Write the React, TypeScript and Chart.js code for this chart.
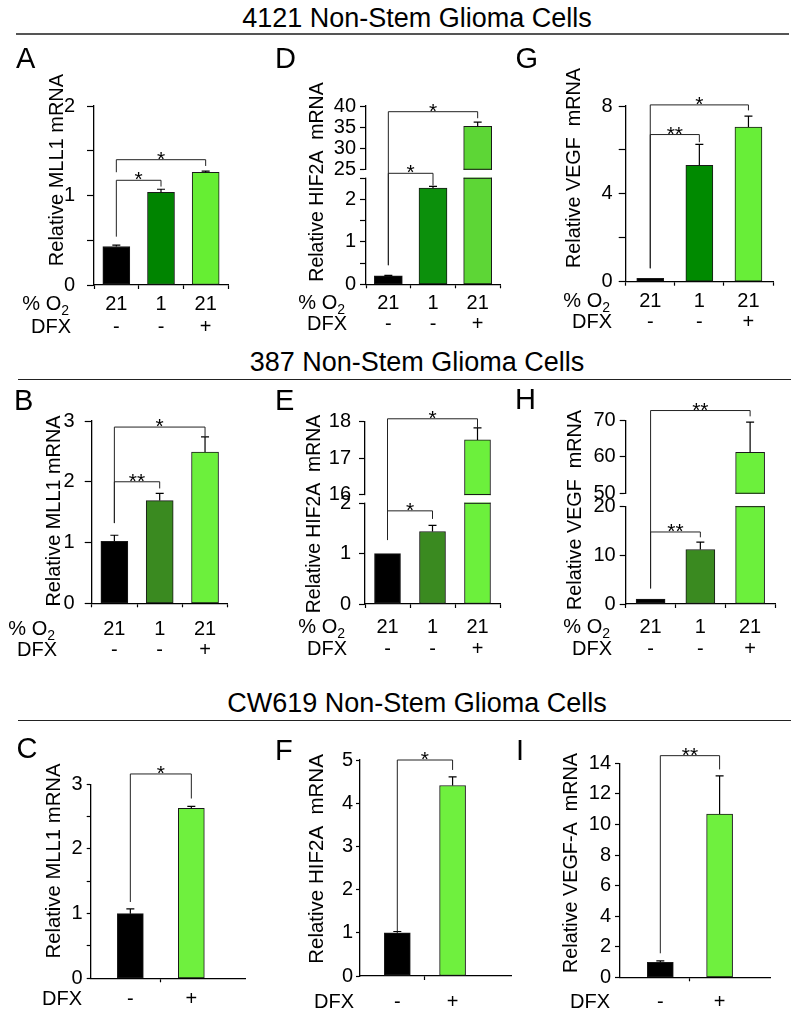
import React, { useEffect, useRef } from 'react';
import { Chart, registerables, LinearScale } from 'chart.js';

Chart.register(...registerables);

// ---------- broken (split) linear axis ----------
class BrokenScale extends LinearScale {
  static id = 'broken';
  static defaults = LinearScale.defaults;
  getPixelForValue(value: number) {
    const b: any = (this.options as any).brk;
    const top = this.top, bottom = this.bottom, h = bottom - top;
    const lowPx = bottom - h * b.lowFrac;
    const highPx = lowPx - h * b.gapFrac;
    if (value <= b.lowMax) return bottom - ((value - this.min) / (b.lowMax - this.min)) * (bottom - lowPx);
    if (value >= b.highMin) return highPx - ((value - b.highMin) / (this.max - b.highMin)) * (highPx - top);
    return lowPx - ((value - b.lowMax) / (b.highMin - b.lowMax)) * (lowPx - highPx);
  }
  getValueForPixel(pixel: number) {
    const b: any = (this.options as any).brk;
    const top = this.top, bottom = this.bottom, h = bottom - top;
    const lowPx = bottom - h * b.lowFrac;
    const highPx = lowPx - h * b.gapFrac;
    if (pixel >= lowPx) return this.min + ((bottom - pixel) / (bottom - lowPx)) * (b.lowMax - this.min);
    if (pixel <= highPx) return b.highMin + ((highPx - pixel) / (highPx - top)) * (this.max - b.highMin);
    return b.lowMax + ((lowPx - pixel) / (lowPx - highPx)) * (b.highMin - b.lowMax);
  }
}
Chart.register(BrokenScale);

const FONT = "'Liberation Sans', Arial, Helvetica, sans-serif";

// ---------- data ----------
const O2 = ['21', '1', '21'];
const DFX3 = ['-', '-', '+'];
const DFX2 = ['-', '+'];
const X2 = [1, 2];

// 4121 Non-Stem
const MLL1_4121 = [0.43, 1.035, 1.26];
const MLL1_4121_ERR = [0.015, 0.035, 0.012];
const HIF2A_4121 = [0.2, 2.27, 35.2];
const HIF2A_4121_ERR = [0.01, 0.04, 1.0];
const VEGF_4121 = [0.15, 5.3, 7.04];
const VEGF_4121_ERR = [0.0, 0.95, 0.5];
// 387 Non-Stem
const MLL1_387 = [1.02, 1.69, 2.49];
const MLL1_387_ERR = [0.1, 0.12, 0.25];
const HIF2A_387 = [1.0, 1.44, 17.5];
const HIF2A_387_ERR = [0.0, 0.12, 0.33];
const VEGF_387 = [1.0, 11.2, 61.3];
const VEGF_387_ERR = [0.0, 1.5, 8.3];
// CW619 Non-Stem
const MLL1_CW = [1.0, 2.63];
const MLL1_CW_ERR = [0.075, 0.03];
const HIF2A_CW = [1.0, 4.41];
const HIF2A_CW_ERR = [0.03, 0.2];
const VEGFA_CW = [0.98, 10.68];
const VEGFA_CW_ERR = [0.09, 2.5];

// y ticks (all tick marks) and labelled ticks
const TICKS_A = [0, 0.5, 1, 1.5, 2];       const LAB_A = [0, 1, 2];
const TICKS_D = [0, 0.5, 1, 1.5, 2, 2.5, 25, 30, 35, 40]; const LAB_D = [0, 1, 2, 25, 30, 35, 40];
const TICKS_G = [0, 2, 4, 6, 8];            const LAB_G = [0, 4, 8];
const TICKS_B = [0, 1, 2, 3];               const LAB_B = [0, 1, 2, 3];
const TICKS_E = [0, 1, 2, 16, 17, 18];      const LAB_E = [0, 1, 2, 16, 17, 18];
const TICKS_H = [0, 10, 20, 50, 60, 70];    const LAB_H = [0, 10, 20, 50, 60, 70];
const TICKS_C = [0, 0.5, 1, 1.5, 2, 2.5, 3]; const LAB_C = [0, 1, 2, 3];
const TICKS_F = [0, 1, 2, 3, 4, 5];         const LAB_F = [0, 1, 2, 3, 4, 5];
const TICKS_I = [0, 2, 4, 6, 8, 10, 12, 14]; const LAB_I = [0, 2, 4, 6, 8, 10, 12, 14];

// significance brackets: [fromBar, toBar, bracketY, leftLegEnd, rightLegEnd, label]
const BR_A = [[0, 2, 1.40, 1.26, 1.33, '*'], [0, 1, 1.17, 0.54, 1.10, '*']];
const BR_D = [[0, 2, 38.65, 0.45, 37.1, '*'], [0, 1, 15, 0.45, 2.33, '*']];
const BR_G = [[0, 2, 8.05, 0.61, 7.8, '*'], [0, 1, 6.7, 0.61, 6.35, '**']];
const BR_B = [[0, 2, 2.90, 1.32, 2.74, '*'], [0, 1, 2.0, 1.32, 1.89, '**']];
const BR_E = [[0, 2, 18.08, 1.27, 17.82, '*'], [0, 1, 1.85, 1.27, 1.69, '*']];
const BR_H = [[0, 2, 72.8, 3.2, 71.2, '**'], [0, 1, 14.8, 3.2, 13.7, '**']];
const BR_C = [[0, 1, 3.16, 1.18, 2.78, '*']];
const BR_F = [[0, 1, 5.0, 1.03, 4.77, '*']];
const BR_I = [[0, 1, 14.5, 1.57, 13.6, '**']];

// colours
const COL_4121A = ['#000000', '#008400', '#66ee33'];
const COL_4121D = ['#000000', '#0c900c', '#5dd636'];
const COL_4121G = ['#000000', '#008a00', '#68ee38'];
const COL_387 = ['#000000', '#3a8a20', '#6cf03c'];
const COL_CW = ['#000000', '#6ff03e'];

// ---------- panel layout (page pixel coordinates) ----------
const PANELS: any[] = [
  { letter: 'A', letterPos: [16, 68], title: 'Relative MLL1 mRNA', titleSize: 20, titlePos: [63, 170],
    values: MLL1_4121, errors: MLL1_4121_ERR, colors: COL_4121A, three: true, yMax: 2, yTicks: TICKS_A, yLab: LAB_A,
    brackets: BR_A, box: [0, 36, 262, 340], axisX: 94, plotRight: 228, yTop: 106, y0: 285,
    yTickLen: 7, yTickPad: 12, rows: [304, 327.5], rowRight: 71, barW: 27 },
  { letter: 'D', letterPos: [275, 68], title: 'Relative HIF2A  mRNA', titleSize: 19.5, titlePos: [323, 182],
    values: HIF2A_4121, errors: HIF2A_4121_ERR, colors: COL_4121D, three: true, yMax: 40, yTicks: TICKS_D, yLab: LAB_D,
    brk: { lowMax: 2.5, highMin: 25, lowFrac: 0.5945, gapFrac: 0.0505 },
    brackets: BR_D, box: [262, 36, 512, 340], axisX: 366, plotRight: 500, yTop: 106, y0: 284.3,
    yTickLen: 6, yTickPad: 4, rows: [303.3, 324.5], rowRight: 347, barW: 28 },
  { letter: 'G', letterPos: [515.5, 68], title: 'Relative VEGF  mRNA', titleSize: 19.8, titlePos: [580, 168],
    values: VEGF_4121, errors: VEGF_4121_ERR, colors: COL_4121G, three: true, yMax: 8, yTicks: TICKS_G, yLab: LAB_G,
    brackets: BR_G, box: [512, 36, 800, 340], axisX: 625.7, plotRight: 773, yTop: 106, y0: 281.7,
    yTickLen: 7, yTickPad: 6, rows: [301, 322.5], rowRight: 612, barW: 27 },
  { letter: 'B', letterPos: [14, 410], title: 'Relative MLL1 mRNA', titleSize: 19.9, titlePos: [60, 511],
    values: MLL1_387, errors: MLL1_387_ERR, colors: COL_387, three: true, yMax: 3, yTicks: TICKS_B, yLab: LAB_B,
    brackets: BR_B, box: [0, 382, 262, 668], axisX: 91.7, plotRight: 227.7, yTop: 421, y0: 603.3,
    yTickLen: 7, yTickPad: 10, rows: [629.2, 650.8], rowRight: 57, barW: 27 },
  { letter: 'E', letterPos: [275, 410], title: 'Relative HIF2A  mRNA', titleSize: 19.4, titlePos: [320, 514],
    values: HIF2A_387, errors: HIF2A_387_ERR, colors: COL_387, three: true, yMax: 18, yTicks: TICKS_E, yLab: LAB_E,
    brk: { lowMax: 2, highMin: 16, lowFrac: 0.5524, gapFrac: 0.0483 },
    brackets: BR_E, box: [262, 382, 512, 668], axisX: 365, plotRight: 500, yTop: 421.7, y0: 604,
    yTickLen: 6, yTickPad: 8, rows: [627.5, 649.2], rowRight: 347, barW: 26 },
  { letter: 'H', letterPos: [515, 409], title: 'Relative VEGF  mRNA', titleSize: 19.8, titlePos: [581, 510],
    values: VEGF_387, errors: VEGF_387_ERR, colors: COL_387, three: true, yMax: 70, yTicks: TICKS_H, yLab: LAB_H,
    brk: { lowMax: 20, highMin: 50, lowFrac: 0.531, gapFrac: 0.0731 },
    brackets: BR_H, box: [512, 382, 800, 668], axisX: 625.7, plotRight: 775, yTop: 420.7, y0: 604,
    yTickLen: 6, yTickPad: 4, rows: [627.5, 649.2], rowRight: 612, barW: 29 },
  { letter: 'C', letterPos: [16.5, 758], title: 'Relative MLL1 mRNA', titleSize: 20.3, titlePos: [60, 861],
    values: MLL1_CW, errors: MLL1_CW_ERR, colors: COL_CW, three: false, yMax: 3, yTicks: TICKS_C, yLab: LAB_C,
    xMin: 0.35, xMax: 2.88,
    brackets: BR_C, box: [0, 722, 262, 1018], axisX: 90.7, plotRight: 245, yTop: 784.3, y0: 978.3,
    yTickLen: 4, yTickPad: 4, rows: [999.2], rowRight: 82, barW: 26 },
  { letter: 'F', letterPos: [275, 760], title: 'Relative HIF2A  mRNA', titleSize: 20.5, titlePos: [323, 859],
    values: HIF2A_CW, errors: HIF2A_CW_ERR, colors: COL_CW, three: false, yMax: 5, yTicks: TICKS_F, yLab: LAB_F,
    xMin: 0.325, xMax: 3.075,
    brackets: BR_F, box: [262, 722, 512, 1018], axisX: 360, plotRight: 525, yTop: 760, y0: 976,
    yTickLen: 4, yTickPad: 3, rows: [1002.5], rowRight: 354, barW: 26 },
  { letter: 'I', letterPos: [516, 760], title: 'Relative VEGF-A  mRNA', titleSize: 19.8, titlePos: [577, 863],
    values: VEGFA_CW, errors: VEGFA_CW_ERR, colors: COL_CW, three: false, yMax: 14, yTicks: TICKS_I, yLab: LAB_I,
    xMin: 0.32, xMax: 2.85,
    brackets: BR_I, box: [512, 722, 800, 1018], axisX: 620, plotRight: 770, yTop: 763.3, y0: 977.3,
    yTickLen: 5, yTickPad: 4, rows: [1002.5], rowRight: 610, barW: 26 },
];

function makePlugin(p: any) {
  return {
    id: 'decor' + p.letter,
    afterDatasetsDraw(chart: any) {
      const ctx = chart.ctx;
      const ys = chart.scales.y;
      const meta = chart.getDatasetMeta(0);
      const ca = chart.chartArea;
      ctx.save();
      if (p.brk) {
        const hi = ys.getPixelForValue(p.brk.highMin);
        const lo = ys.getPixelForValue(p.brk.lowMax);
        ctx.fillStyle = '#ffffff';
        ctx.fillRect(ca.left - 2, hi + 0.7, ca.right - ca.left + 4, lo - hi - 1.4);
        ctx.strokeStyle = '#1a1a1a';
        ctx.lineWidth = 1;
        meta.data.forEach((el: any, i: number) => {
          if (p.values[i] > p.brk.highMin) {
            const l = el.x - el.width / 2, r = el.x + el.width / 2;
            ctx.beginPath();
            ctx.moveTo(l, hi); ctx.lineTo(r, hi);
            ctx.moveTo(l, lo); ctx.lineTo(r, lo);
            ctx.stroke();
          }
        });
      }
      // error bars (upper)
      ctx.strokeStyle = '#000';
      ctx.lineWidth = 1.2;
      meta.data.forEach((el: any, i: number) => {
        const e = p.errors[i];
        if (!e) return;
        const yv = ys.getPixelForValue(p.values[i]);
        const ye = ys.getPixelForValue(p.values[i] + e);
        ctx.beginPath();
        ctx.moveTo(el.x, yv); ctx.lineTo(el.x, ye);
        ctx.moveTo(el.x - 4, ye); ctx.lineTo(el.x + 4, ye);
        ctx.stroke();
      });
      // significance brackets
      for (const b of p.brackets) {
        const [from, to, yB, yL, yR, label] = b;
        const xl = meta.data[from].x, xr = meta.data[to].x;
        const pb = ys.getPixelForValue(yB), pl = ys.getPixelForValue(yL), pr = ys.getPixelForValue(yR);
        ctx.strokeStyle = '#222';
        ctx.lineWidth = 1;
        ctx.beginPath();
        ctx.moveTo(xl, pl); ctx.lineTo(xl, pb); ctx.lineTo(xr, pb); ctx.lineTo(xr, pr);
        ctx.stroke();
        ctx.fillStyle = '#000';
        ctx.font = `21px ${FONT}`;
        ctx.textAlign = 'center';
        ctx.textBaseline = 'alphabetic';
        ctx.fillText(label, (xl + xr) / 2, pb + 6);
      }
      ctx.restore();
    },
    afterDraw(chart: any) {
      const ctx = chart.ctx;
      const ox = p.box[0], oy = p.box[1];
      ctx.save();
      ctx.fillStyle = '#000';
      // panel letter
      ctx.font = `29px ${FONT}`;
      ctx.textAlign = 'left';
      ctx.textBaseline = 'alphabetic';
      ctx.fillText(p.letter, p.letterPos[0] - ox, p.letterPos[1] - oy);
      // y title
      ctx.save();
      ctx.translate(p.titlePos[0] - ox, p.titlePos[1] - oy);
      ctx.rotate(-Math.PI / 2);
      ctx.font = `${p.titleSize}px ${FONT}`;
      ctx.textAlign = 'center';
      ctx.textBaseline = 'alphabetic';
      ctx.fillText(p.title, 0, 0);
      ctx.restore();
      // row headers
      ctx.textBaseline = 'middle';
      ctx.textAlign = 'right';
      const rx = p.rowRight - ox;
      if (p.three) {
        const y1 = p.rows[0] - oy;
        ctx.font = `14px ${FONT}`;
        const sw = ctx.measureText('2').width;
        ctx.fillText('2', rx - 2, y1 + 7);
        ctx.font = `20px ${FONT}`;
        ctx.fillText('% O', rx - 2 - sw, y1);
        ctx.fillText('DFX', rx, p.rows[1] - oy);
      } else {
        ctx.font = `20px ${FONT}`;
        ctx.fillText('DFX', rx, p.rows[0] - oy);
      }
      ctx.restore();
    },
  };
}

function buildConfig(p: any) {
  const lin = !p.three;
  const rowGap = p.rows.length > 1 ? p.rows[1] - p.rows[0] : 22;
  const xTickLen = 4;
  const xPad = p.rows[0] - p.y0 - xTickLen - rowGap / 2;
  const data = lin ? p.values.map((v: number, i: number) => ({ x: X2[i], y: v })) : p.values;
  const labels = lin ? [] : O2.map((o, i) => [o, DFX3[i]]);
  const xCommon = {
    border: { display: true, color: '#000', width: 1.3 },
    ticks: {
      color: '#000', font: { family: FONT, size: 20, lineHeight: `${rowGap}px` },
      padding: xPad, autoSkip: false, maxRotation: 0, minRotation: 0,
    },
    afterFit: (s: any) => { s.height = p.box[3] - p.y0; },
  };
  const x = lin
    ? {
        ...xCommon,
        type: 'linear', min: p.xMin, max: p.xMax, offset: false,
        grid: {
          display: true, offset: false, drawOnChartArea: false, drawTicks: true, tickLength: xTickLen, tickWidth: 1.2,
          tickColor: (c: any) => (c.tick && c.tick.value === (X2[0] + X2[1]) / 2 ? '#000' : 'rgba(0,0,0,0)'),
        },
        afterBuildTicks: (s: any) => { s.ticks = [X2[0], (X2[0] + X2[1]) / 2, X2[1]].map((value) => ({ value })); },
        ticks: { ...xCommon.ticks, callback: (v: number) => { const i = X2.indexOf(v); return i >= 0 ? DFX2[i] : ''; } },
      }
    : {
        ...xCommon,
        type: 'category', offset: true,
        grid: { display: true, offset: true, drawOnChartArea: false, drawTicks: true, tickLength: xTickLen, tickColor: '#000', tickWidth: 1.2 },
      };
  return {
    type: 'bar',
    data: {
      labels,
      datasets: [{
        data, backgroundColor: p.colors, borderColor: '#1a1a1a', borderWidth: 1, borderSkipped: false,
        barThickness: p.barW,
      }],
    },
    options: {
      animation: false, responsive: false, maintainAspectRatio: false, events: [],
      layout: { autoPadding: false, padding: { left: 0, top: p.yTop - p.box[1], right: p.box[2] - p.plotRight, bottom: 0 } },
      plugins: { legend: { display: false }, tooltip: { enabled: false }, title: { display: false } },
      scales: {
        x,
        y: {
          type: p.brk ? 'broken' : 'linear',
          brk: p.brk,
          min: 0, max: p.yMax,
          border: { display: true, color: '#000', width: 1.3 },
          grid: { display: true, drawOnChartArea: false, drawTicks: true, tickLength: p.yTickLen, tickColor: '#000', tickWidth: 1.2 },
          ticks: {
            color: '#000', font: { family: FONT, size: 20 }, padding: p.yTickPad, autoSkip: false,
            callback: (v: number) => (p.yLab.includes(v) ? String(v) : ''),
          },
          afterBuildTicks: (s: any) => { s.ticks = p.yTicks.map((value: number) => ({ value })); },
          afterFit: (s: any) => { s.width = p.axisX - p.box[0]; },
        },
      },
    },
    plugins: [makePlugin(p)],
  };
}

function Panel({ p }: { p: any }) {
  const ref = useRef<HTMLCanvasElement>(null);
  useEffect(() => {
    const chart = new Chart(ref.current as HTMLCanvasElement, buildConfig(p) as any);
    return () => chart.destroy();
  }, [p]);
  const w = p.box[2] - p.box[0];
  const h = p.box[3] - p.box[1];
  return (
    <canvas ref={ref} width={w} height={h}
      style={{ position: 'absolute', left: p.box[0], top: p.box[1], width: w, height: h }} />
  );
}

const HEADERS = [
  { text: '4121 Non-Stem Glioma Cells', baseline: 28.3, lineY: 32.5, lineH: 2, lineColor: '#555', lineL: 16, lineR: 789 },
  { text: '387 Non-Stem Glioma Cells', baseline: 371.7, lineY: 378.8, lineH: 1.3, lineColor: '#222', lineL: 18, lineR: 791 },
  { text: 'CW619 Non-Stem Glioma Cells', baseline: 713.3, lineY: 720.2, lineH: 1.3, lineColor: '#222', lineL: 18, lineR: 791 },
];

export default function App() {
  return (
    <div style={{ position: 'absolute', left: 0, top: 0, width: 800, height: 1018, background: '#fff', overflow: 'hidden' }}>
      {HEADERS.map((hd) => (
        <React.Fragment key={hd.text}>
          <div style={{
            position: 'absolute', left: 34, width: 766, top: hd.baseline - 22.85, textAlign: 'center',
            fontFamily: FONT, fontSize: 27, lineHeight: '27px', whiteSpace: 'pre', color: '#000',
          }}>{hd.text}</div>
          <div style={{ position: 'absolute', left: hd.lineL, width: hd.lineR - hd.lineL, top: hd.lineY, height: hd.lineH, background: hd.lineColor }} />
        </React.Fragment>
      ))}
      {PANELS.map((p) => <Panel key={p.letter} p={p} />)}
    </div>
  );
}
